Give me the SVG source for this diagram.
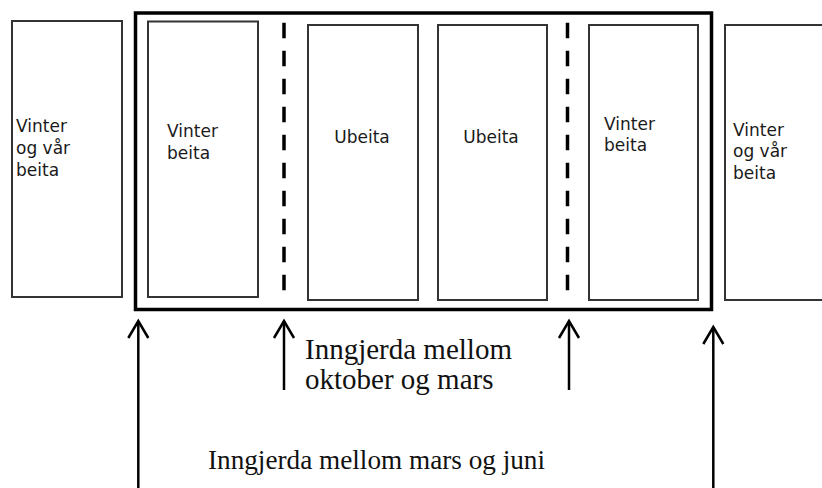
<svg xmlns="http://www.w3.org/2000/svg" width="822" height="488" viewBox="0 0 822 488">
  <style>
    .field { fill: #ffffff; stroke: #333333; stroke-width: 2; }
    .enclosure { fill: none; stroke: #000000; stroke-width: 3.5; }
    .fence { stroke: #000000; stroke-width: 3.5; stroke-dasharray: 15.5 12.5; fill: none; }
    .lbl { font-family: "DejaVu Sans", "Liberation Sans", sans-serif; font-size: 17px; fill: #1a1a1a; }
    .cap { font-family: "Liberation Serif", "Times New Roman", serif; font-size: 29px; fill: #111111; }
    .arrow { stroke: #000000; stroke-width: 2.5; fill: none; marker-end: url(#head); }
  </style>
  <defs>
    <marker id="head" markerUnits="userSpaceOnUse" markerWidth="40" markerHeight="40" viewBox="-20 -20 40 40" refX="0" refY="0" orient="auto" overflow="visible">
      <path d="M -17 -10 L 0 0 L -17 10" fill="none" stroke="#000000" stroke-width="2.5" stroke-linejoin="miter"/>
    </marker>
    <clipPath id="clipLow">
      <rect x="0" y="0" width="822" height="396"/>
    </clipPath>
  </defs>
  <rect x="0" y="0" width="822" height="488" fill="#ffffff"/>

  <g id="enclosure">
    <rect class="enclosure" x="135.5" y="13" width="576" height="296.5"/>
  </g>

  <g id="fences">
    <line class="fence" x1="284" y1="22.7" x2="284" y2="291"/>
    <line class="fence" x1="567.5" y1="22.7" x2="567.5" y2="291"/>
  </g>

  <g id="field1">
    <rect class="field" x="12" y="21" width="110" height="276"/>
    <text class="lbl" x="16" y="132">Vinter</text>
    <text class="lbl" x="16" y="154">og vår</text>
    <text class="lbl" x="16" y="176">beita</text>
  </g>
  <g id="field2">
    <rect class="field" x="148" y="21.5" width="110" height="275.5"/>
    <text class="lbl" x="167" y="137">Vinter</text>
    <text class="lbl" x="167" y="159">beita</text>
  </g>
  <g id="field3">
    <rect class="field" x="308" y="25" width="110" height="275"/>
    <text class="lbl" x="362" y="143" text-anchor="middle">Ubeita</text>
  </g>
  <g id="field4">
    <rect class="field" x="438" y="25" width="109" height="275"/>
    <text class="lbl" x="491" y="143" text-anchor="middle">Ubeita</text>
  </g>
  <g id="field5">
    <rect class="field" x="589" y="25" width="109" height="275"/>
    <text class="lbl" x="604" y="129.5">Vinter</text>
    <text class="lbl" x="604" y="151">beita</text>
  </g>
  <g id="field6">
    <rect class="field" x="725" y="25" width="110" height="275"/>
    <text class="lbl" x="733" y="136">Vinter</text>
    <text class="lbl" x="733" y="157">og vår</text>
    <text class="lbl" x="733" y="178.5">beita</text>
  </g>

  <g id="connectors">
    <line class="arrow" x1="138.3" y1="488" x2="138.3" y2="321"/>
    <line class="arrow" x1="284" y1="390" x2="284" y2="321"/>
    <line class="arrow" x1="569" y1="390" x2="569" y2="321"/>
    <line class="arrow" x1="713.3" y1="488" x2="713.3" y2="327"/>
  </g>

  <g id="label-autumn">
    <text class="cap" x="305" y="359.3">Inngjerda mellom</text>
    <text class="cap" x="305" y="388.5" clip-path="url(#clipLow)">oktober og mars</text>
  </g>
  <g id="label-spring">
    <text class="cap" x="208" y="469.3" style="font-size:27.5px" textLength="337" lengthAdjust="spacingAndGlyphs">Inngjerda mellom mars og juni</text>
  </g>
</svg>
